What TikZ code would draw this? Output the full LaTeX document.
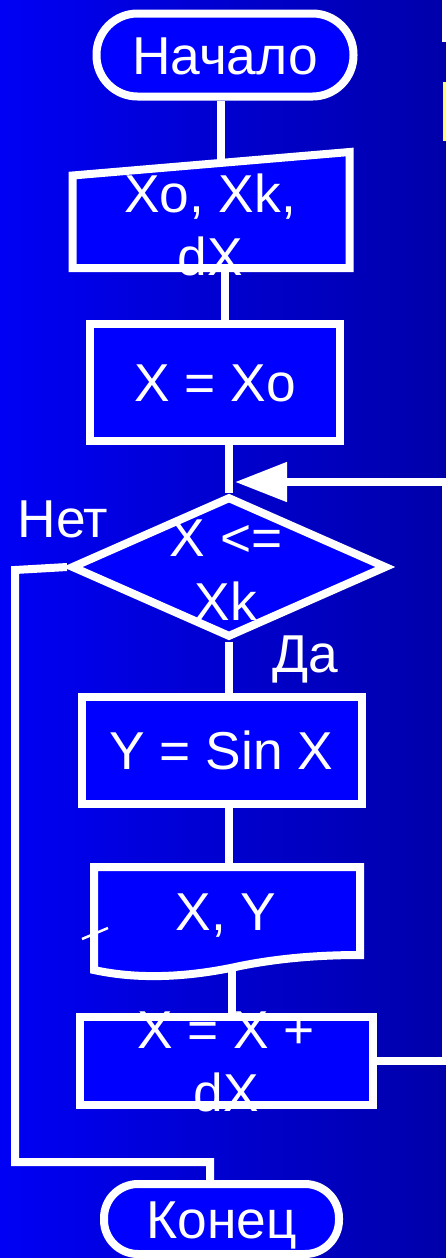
\documentclass[tikz,border=0pt]{standalone}
\usepackage{fontspec}
\setmainfont{Liberation Sans}
\usepackage{tikz}
\usetikzlibrary{positioning,arrows.meta,shapes.geometric,calc}
\newdimen\pxu \pxu=0.75pt
\definecolor{bgleft}{RGB}{0,0,245}
\definecolor{bgright}{RGB}{0,0,170}
\definecolor{boxblue}{RGB}{0,0,255}
\definecolor{sliver}{RGB}{255,255,110}
\tikzset{
  block/.style={draw=white, fill=boxblue, line width=8\pxu, inner sep=0pt,
    text=white, font=\fontsize{40}{47.5}\selectfont, text height=28.5pt, text depth=0pt},
  terminal/.style={block, rectangle},
  process/.style={block, rectangle},
  decision/.style={block, diamond},
  txt/.style={text=white, font=\fontsize{40}{47.5}\selectfont, align=center, inner sep=0pt},
  lbl/.style={txt, text height=28.5pt, text depth=0pt},
  flow/.style={draw=white, line width=8\pxu},
  loopback/.style={flow, -{Triangle[length=39pt,width=28.5pt]}}
}
\begin{document}
\begin{tikzpicture}[x=0.75pt, y=-0.75pt]
    \useasboundingbox (0,0) rectangle (446,1258);
    \fill[left color=bgleft, right color=bgright] (0,0) rectangle (446,1258);
    \fill[white] (442,0) rectangle (446,42);
    \fill[sliver] (443,82) rectangle (446,141);

    \node[terminal, minimum width=257\pxu, minimum height=83\pxu, rounded corners=41\pxu] (start) at (225,55) {Начало};
    % input (slanted top)
    \draw[block] (72.5,175.5) -- (349.5,152) -- (349.5,268) -- (72.5,268) -- cycle;
    \node[txt] (read) at (210,225) {Xo, Xk,\\dX};
    \coordinate (in-n) at (221,163);
    \coordinate (in-s) at (225,268);
    \node[process, minimum width=250\pxu, minimum height=117\pxu] (init) at (215,382.5) {X = Xo};
    \node[decision, minimum width=316\pxu, minimum height=141\pxu] (cond) at (229,567) {};
    \node[txt] (condtext) at (226,570) {X <=\\Xk};
    \node[lbl] (no) at (63,518.5) {Нет};
    \node[lbl] (yes) at (305,653) {Да};
    \node[process, minimum width=280\pxu, minimum height=107\pxu] (calc) at (221.5,750.5) {Y = Sin X};
    % output (document)
    \draw[block] (94,867) -- (360,867) -- (360,955)
      .. controls (320,955) and (280,958) .. (240,966)
      .. controls (190,977) and (140,980) .. (94,970) -- cycle;
    \node[lbl] (print) at (226,911) {X, Y};
    \draw[white, line width=2.5\pxu] (82,939) -- (108,928);
    \coordinate (out-n) at (229,867);
    \coordinate (out-s) at (232,968);
    \node[process, minimum width=293\pxu, minimum height=88\pxu] (step) at (226,1061) {};
    \node[txt] (steptext) at (226,1062) {X = X +\\dX};
    \node[terminal, minimum width=235\pxu, minimum height=70\pxu, rounded corners=34\pxu] (finish) at (221.5,1219) {Конец};

    \coordinate (loop-se) at (446,1061);
    \coordinate (loop-ne) at (446,482);
    \coordinate (loop-in) at (235,482);
    \coordinate (no-w) at (15,570);
    \coordinate (no-sw) at (15,1162);
    \coordinate (no-se) at (210,1162);

    \draw[flow] (in-n |- start.south) -- (in-n);
    \draw[flow] (in-s) -- (in-s |- init.north);
    \draw[flow] (cond.north |- init.south) -- (cond.north);
    \draw[flow] (cond.south) -- (cond.south |- calc.north);
    \draw[flow] (out-n |- calc.south) -- (out-n);
    \draw[flow] (out-s) -- (out-s |- step.north);
    \draw[loopback] (step.east) -- (loop-se) -- (loop-ne) -- (loop-in);
    \draw[flow] (cond.west) -- (no-w) -- (no-sw) -- (no-se) -- (no-se |- finish.north);
\end{tikzpicture}
\end{document}
